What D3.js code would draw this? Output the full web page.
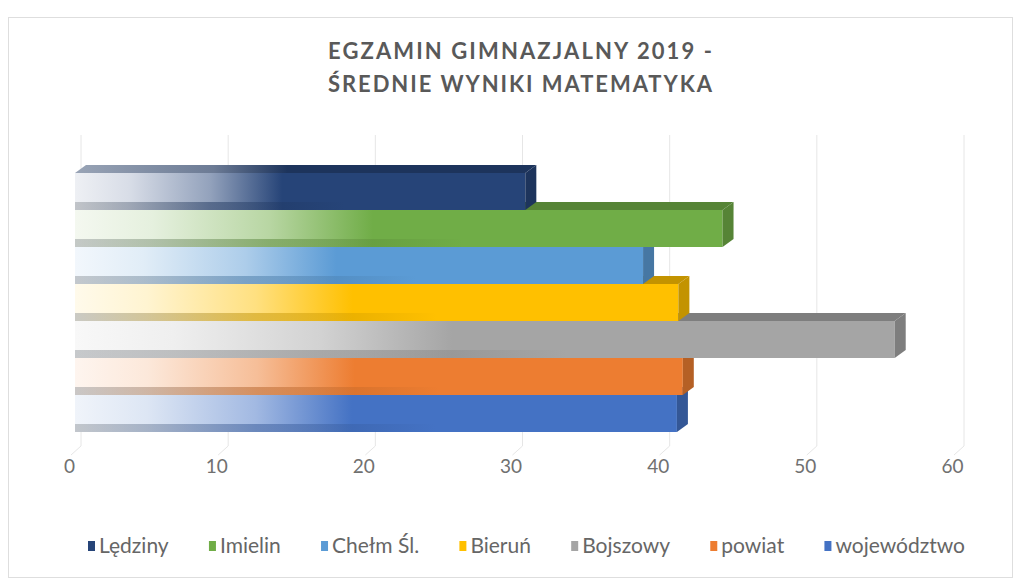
<!DOCTYPE html>
<html>
<head>
<meta charset="utf-8">
<script src="https://cdn.jsdelivr.net/npm/d3@7"></script>
<style>
  body { margin: 0; background: #fff; }
  svg { display: block; }
</style>
</head>
<body>
<div id="chart"></div>
<script>
// dane
const categories = ["Lędziny", "Imielin", "Chełm Śl.", "Bieruń", "Bojszowy", "powiat", "województwo"];
const values = [30.6, 44.0, 38.6, 41.0, 55.7, 41.3, 40.9];
const colors = ["#264478", "#70ad47", "#5b9bd5", "#ffc000", "#a5a5a5", "#ed7d31", "#4472c4"];
const ticks = [0, 10, 20, 30, 40, 50, 60];
const titleLines = ["EGZAMIN GIMNAZJALNY 2019 -", "ŚREDNIE WYNIKI MATEMATYKA"];

const W = 1021, H = 580;
const DX = 11, DY = 8;       // glebokosc 3D
const TXT = "#595959";

const svg = d3.select("#chart").append("svg")
  .attr("width", W)
  .attr("height", H)
  .style("font-family", "Lato, 'Open Sans', sans-serif");

// ramka
svg.append("rect")
  .attr("x", 8.5).attr("y", 17.5)
  .attr("width", 1004).attr("height", 560)
  .attr("fill", "#fff")
  .attr("stroke", "#dedede");

// tytul
svg.selectAll(".title")
  .data(titleLines)
  .enter()
  .append("text")
    .attr("class", "title")
    .attr("x", 520)
    .attr("y", (d, i) => 59 + i * 33)
    .attr("text-anchor", "middle")
    .attr("font-size", "22px")
    .attr("font-weight", "bold")
    .attr("fill", TXT)
    .attr("textLength", 384)
    .attr("lengthAdjust", "spacing")
    .text(d => d);

const x = d3.scaleLinear().domain([0, 60]).range([75, 958]);
const y = d3.scaleBand().domain(categories).range([173, 432]).paddingInner(0);

// siatka (sciana + podloga)
svg.selectAll(".grid")
  .data(ticks)
  .enter()
  .append("path")
    .attr("class", "grid")
    .attr("d", d => `M${x(d) + 6},135 L${x(d) + 6},446 L${x(d) - 4},455`)
    .attr("fill", "none")
    .attr("stroke", "#e6e6e6")
    .attr("stroke-width", 1);

const defs = svg.append("defs");
const mix = (c, t) => d3.interpolateRgb(c, "#ffffff")(t);
const dark = c => d3.color(c).darker(0.75).formatHex();

colors.forEach((c, i) => {
  const g = defs.append("linearGradient").attr("id", "front" + i);
  [[0, 0.92], [0.12, 0.82], [0.3, 0.5], [0.46, 0]].forEach(s =>
    g.append("stop").attr("offset", s[0]).attr("stop-color", mix(c, s[1])));

  const t = defs.append("linearGradient").attr("id", "top" + i);
  [[0, 0.55], [0.3, 0.35], [0.46, 0]].forEach(s =>
    t.append("stop").attr("offset", s[0]).attr("stop-color", mix(dark(c), s[1])));

  const b = defs.append("linearGradient").attr("id", "bot" + i);
  [[0, 0.45, "#8a8f94"], [0.3, 0.5, dark(c)], [0.45, 0.35, dark(c)], [0.6, 0, dark(c)]].forEach(s =>
    b.append("stop").attr("offset", s[0]).attr("stop-color", s[2]).attr("stop-opacity", s[1]));
});

const bars = categories.map((k, i) => ({ key: k, value: values[i], color: colors[i], i: i }));

// od dolu do gory, zeby gorny slupek przykryl wierzch nastepnego
const bar = svg.selectAll(".bar")
  .data(bars.slice().reverse())
  .enter()
  .append("g")
    .attr("class", "bar");

bar.append("path")
  .attr("d", d => {
    const x0 = x(0), x1 = x(d.value), y0 = y(d.key);
    return `M${x0},${y0} L${x0 + DX},${y0 - DY} L${x1 + DX},${y0 - DY} L${x1},${y0} Z`;
  })
  .attr("fill", d => `url(#top${d.i})`);

bar.append("rect")
  .attr("x", x(0))
  .attr("y", d => y(d.key))
  .attr("width", d => x(d.value) - x(0))
  .attr("height", y.bandwidth())
  .attr("fill", d => `url(#front${d.i})`);

bar.append("rect")
  .attr("x", x(0))
  .attr("y", d => y(d.key) + y.bandwidth() - 8)
  .attr("width", d => x(d.value) - x(0))
  .attr("height", 8)
  .attr("fill", d => `url(#bot${d.i})`);

bar.append("path")
  .attr("d", d => {
    const x1 = x(d.value), y0 = y(d.key), y1 = y0 + y.bandwidth();
    return `M${x1},${y0} L${x1 + DX},${y0 - DY} L${x1 + DX},${y1 - DY} L${x1},${y1} Z`;
  })
  .attr("fill", d => dark(d.color));

// os X
const axis = svg.append("g")
  .attr("transform", "translate(-6,454)")
  .call(d3.axisBottom(x).tickValues(ticks).tickSize(0).tickPadding(6));
axis.select(".domain").remove();
axis.selectAll("text")
  .attr("font-size", "19px")
  .attr("font-family", "Lato, sans-serif")
  .attr("fill", "#707070");

// legenda
const leg = svg.append("g").attr("class", "legend");
const items = leg.selectAll("g")
  .data(bars)
  .enter()
  .append("g");

items.append("rect")
  .attr("width", 7)
  .attr("height", 10)
  .attr("y", -5)
  .attr("fill", d => d.color);

items.append("text")
  .attr("x", 11)
  .attr("dy", "0.35em")
  .attr("font-size", "21px")
  .attr("fill", "#666666")
  .text(d => d.key);

const widths = [];
items.each(function() { widths.push(11 + this.querySelector("text").getComputedTextLength()); });
const span = 965 - 88;
const gap = (span - d3.sum(widths)) / (widths.length - 1);
let pos = 88;
items.attr("transform", (d, i) => {
  const t = `translate(${pos},546)`;
  pos += widths[i] + gap;
  return t;
});
</script>
</body>
</html>
